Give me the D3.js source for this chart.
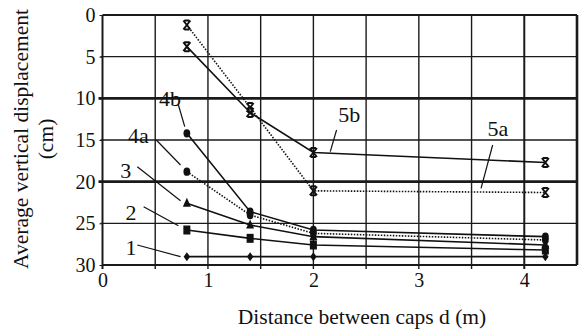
<!DOCTYPE html>
<html><head><meta charset="utf-8">
<script src="https://cdn.jsdelivr.net/npm/d3@7"></script>
<style>body{margin:0;background:#fff}svg{display:block}</style>
</head><body><svg id="c" width="580" height="329"></svg>
<script>
const distances = [0.8, 1.4, 2.0, 4.2];
const s1  = [29.0, 29.0, 29.0, 29.0];
const s2  = [25.8, 26.8, 27.6, 28.2];
const s3  = [22.6, 25.2, 26.6, 27.6];
const s4a = [18.8, 24.0, 26.2, 27.0];
const s4b = [14.2, 23.6, 25.8, 26.6];
const s5a = [1.2, 11.1, 21.1, 21.3];
const s5b = [3.8, 11.7, 16.5, 17.7];
const xTicks = [0, 1, 2, 3, 4];
const yTicks = [0, 5, 10, 15, 20, 25, 30];
const seriesNames = ["1", "2", "3", "4a", "4b", "5a", "5b"];
const seriesMarkers = ["diamond", "square", "triangle", "circle", "circle", "cross", "cross"];
const seriesDashed = [false, false, false, true, false, true, false];
const seriesValues = [s1, s2, s3, s4a, s4b, s5a, s5b];
// label text positions [distance, displacement] and leader [from, to]
const labelPos = [[0.27, 28.8], [0.27, 24.6], [0.22, 19.5], [0.34, 15.3], [0.64, 10.9], [3.75, 14.5], [2.34, 12.8]];
const leaderFrom = [[0.33, 27.6], [0.39, 23.0], [0.33, 18.2], [0.51, 15.0], [0.72, 10.8], [3.7, 15.6], [2.22, 13.8]];
const leaderTo = [[0.74, 29.0], [0.72, 25.3], [0.74, 22.3], [0.74, 18.0], [0.78, 13.4], [3.59, 20.8], [2.16, 16.4]];

const FONT = '"Liberation Serif", "DejaVu Serif", "Noto Serif", "Times New Roman", serif';
const svg = d3.select("#c").attr("font-family", FONT);
const x = d3.scaleLinear().domain([0, 4.5]).range([102.5, 577]);
const y = d3.scaleLinear().domain([0, 30]).range([15, 265]);

// grid
const g = svg.append("g").attr("stroke", "#1a1a1a");
d3.range(0.5, 4.5, 0.5).forEach(v => {
  g.append("line").attr("x1", x(v)).attr("x2", x(v)).attr("y1", y(0)).attr("y2", y(30) + 4)
    .attr("stroke-width", v === 4 ? 2 : 1.4);
});
[5, 10, 15, 20, 25].forEach(v => {
  g.append("line").attr("x1", x(0) - (v % 10 === 0 ? 4 : 2)).attr("x2", x(4.5)).attr("y1", y(v)).attr("y2", y(v))
    .attr("stroke-width", v % 10 === 0 ? 2.6 : 1.4);
});
// frame
g.append("line").attr("x1", x(0)).attr("x2", x(4.5)).attr("y1", y(0)).attr("y2", y(0)).attr("stroke-width", 2);
g.append("line").attr("x1", x(0)).attr("x2", x(4.5)).attr("y1", y(30)).attr("y2", y(30)).attr("stroke-width", 2);
g.append("line").attr("x1", x(0)).attr("x2", x(0)).attr("y1", y(0)).attr("y2", y(30) + 4).attr("stroke-width", 2);
g.append("line").attr("x1", x(4.5)).attr("x2", x(4.5)).attr("y1", y(0)).attr("y2", y(30)).attr("stroke-width", 2.6);

// axes (labels)
const ya = svg.append("g").attr("transform", `translate(${x(0)},0)`)
  .call(d3.axisLeft(y).tickValues(yTicks).tickSize(3).tickPadding(4).tickFormat(d3.format("d")))
  .attr("font-family", FONT);
ya.select(".domain").remove();
ya.selectAll("line").attr("stroke", "#1a1a1a");
ya.selectAll("text").style("font-size", "20px").attr("fill", "#111");
const xa = svg.append("g").attr("transform", `translate(0,${y(30)})`)
  .call(d3.axisBottom(x).tickValues(xTicks).tickSize(0).tickPadding(8).tickFormat(d3.format("d")))
  .attr("font-family", FONT);
xa.select(".domain").remove();
xa.selectAll("text").style("font-size", "20px").attr("fill", "#111");

svg.append("text").attr("x", 362).attr("y", 324).attr("text-anchor", "middle").style("font-size", "21.5px").attr("fill", "#111")
  .text("Distance between caps d (m)");
svg.append("text").attr("transform", "translate(28,139) rotate(-90)").attr("text-anchor", "middle").style("font-size", "21.5px").attr("fill", "#111")
  .text("Average vertical displacement");
svg.append("text").attr("transform", "translate(53,139) rotate(-90)").attr("text-anchor", "middle").style("font-size", "21.5px").attr("fill", "#111")
  .text("(cm)");

// series lines
const line = d3.line().x((d, i) => x(distances[i])).y(d => y(d));
seriesValues.forEach((vals, k) => {
  svg.append("path").datum(vals).attr("d", line).attr("fill", "none").attr("stroke", "#111")
    .attr("stroke-width", 1.6)
    .attr("stroke-dasharray", seriesDashed[k] ? "1.5,1.5" : null);
});
// markers
seriesValues.forEach((vals, k) => {
  const m = seriesMarkers[k];
  vals.forEach((v, i) => {
    const cx = x(distances[i]), cy = y(v);
    if (m === "diamond") svg.append("path").attr("d", `M${cx},${cy-4.5}L${cx+3.2},${cy}L${cx},${cy+4.5}L${cx-3.2},${cy}Z`).attr("fill", "#111");
    else if (m === "square") svg.append("rect").attr("x", cx - 3.5).attr("y", cy - 4.5).attr("width", 7).attr("height", 9).attr("fill", "#111");
    else if (m === "triangle") svg.append("path").attr("d", `M${cx},${cy-5.5}L${cx+4},${cy+3.5}L${cx-4},${cy+3.5}Z`).attr("fill", "#111");
    else if (m === "circle") svg.append("ellipse").attr("cx", cx).attr("cy", cy).attr("rx", 3.4).attr("ry", 4.2).attr("fill", "#111");
    else if (m === "cross") svg.append("path").attr("d", `M${cx-3.5},${cy-4.5}L${cx+3.5},${cy+4.5}M${cx+3.5},${cy-4.5}L${cx-3.5},${cy+4.5}M${cx-2.5},${cy-4.5}L${cx+2.5},${cy-4.5}M${cx-2.5},${cy+4.5}L${cx+2.5},${cy+4.5}`)
      .attr("stroke", "#111").attr("stroke-width", 2).attr("fill", "none");
  });
});
// labels and leaders
seriesNames.forEach((n, k) => {
  svg.append("line").attr("x1", x(leaderFrom[k][0])).attr("y1", y(leaderFrom[k][1]))
    .attr("x2", x(leaderTo[k][0])).attr("y2", y(leaderTo[k][1])).attr("stroke", "#111").attr("stroke-width", 1.2);
  svg.append("text").attr("x", x(labelPos[k][0])).attr("y", y(labelPos[k][1])).attr("text-anchor", "middle")
    .style("font-size", "22px").attr("fill", "#111").text(n);
});
</script></body></html>
